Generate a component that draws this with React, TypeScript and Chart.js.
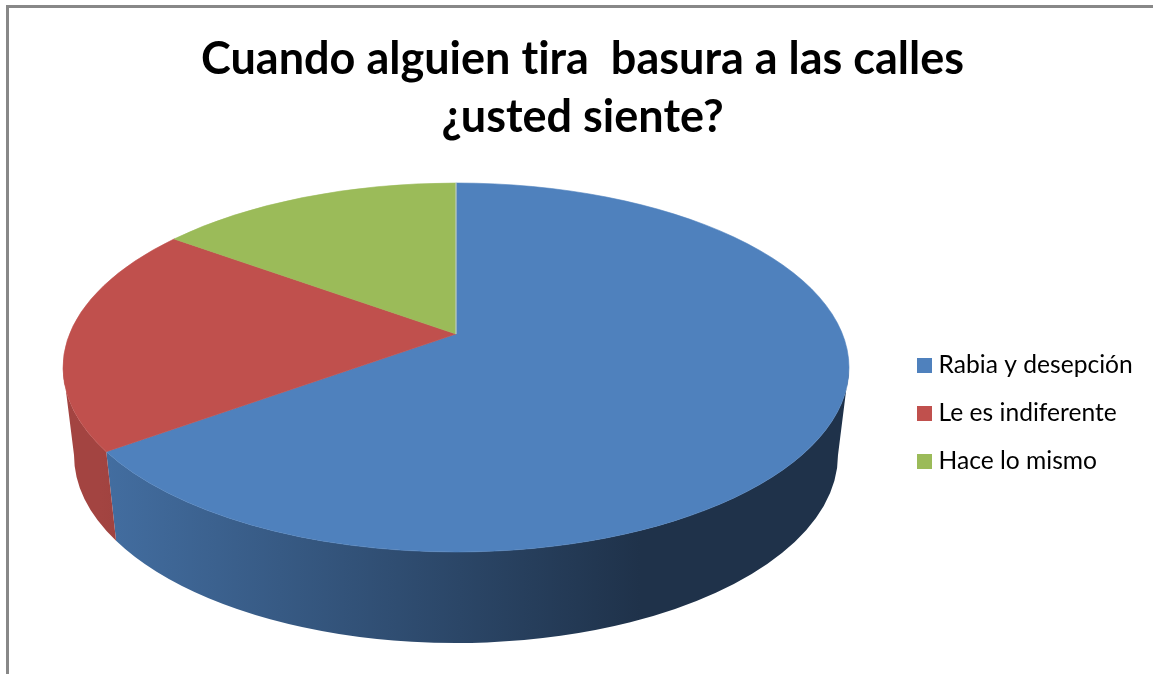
import React, { useEffect, useRef } from "react";
import { Chart, registerables } from "chart.js";

Chart.register(...registerables);

const titleLines = ["Cuando alguien tira  basura a las calles", "¿usted siente?"];
const categories = ["Rabia y desepción", "Le es indiferente", "Hace lo mismo"];
const shares = [65, 20, 15];
const colors = ["#4f81bd", "#c0504d", "#9bbb59"];

// Tilted-disc look of the 3D pie
const top3d = { cx: 456, cy: 367.5, rx: 393, ry: 184.5 };
const bottom3d = { cx: 456, cy: 455, rx: 382, ry: 188 };
const apex = { x: 456, y: 334 };
const persp = { c: -0.1816, a: 117.8, k: 385 };

function paramAngle(angle: number) {
  const x = Math.cos(angle);
  const y = Math.sin(angle);
  const w = 1 + persp.c * y;
  const X = apex.x + (persp.k * x) / w;
  const Y = (persp.a * y + apex.y) / w;
  return Math.atan2((Y - top3d.cy) / top3d.ry, (X - top3d.cx) / top3d.rx);
}

function shade(hex: string, f: number) {
  const n = parseInt(hex.slice(1), 16);
  const r = Math.round(((n >> 16) & 255) * f);
  const g = Math.round(((n >> 8) & 255) * f);
  const b = Math.round((n & 255) * f);
  return `rgb(${r},${g},${b})`;
}

const pie3dPlugin = {
  id: "pie3d",
  afterLayout(chart: any) {
    const legend = chart.legend;
    const width = legend.right - legend.left;
    legend.left = 899.4;
    legend.right = legend.left + width;
    legend.top = 317;
    legend.bottom = 510;
  },
  beforeDraw(chart: any) {
    // a tiny spacing keeps "ti" from turning into a ligature
    chart.ctx.letterSpacing = "0.01px";
  },
  beforeDatasetDraw(chart: any, args: any) {
    const ctx = chart.ctx;
    const meta = chart.getDatasetMeta(args.index);
    const parts = meta.data.map((arc: any, i: number) => {
      let t0 = paramAngle(arc.startAngle);
      let t1 = paramAngle(arc.endAngle);
      if (t1 <= t0) t1 += Math.PI * 2;
      if (t0 > Math.PI) {
        t0 -= Math.PI * 2;
        t1 -= Math.PI * 2;
      }
      return { t0, t1, color: chart.data.datasets[args.index].backgroundColor[i] };
    });

    // side wall
    parts.forEach((p: any) => {
      const a = Math.max(p.t0, 0);
      const b = Math.min(p.t1, Math.PI);
      if (b <= a) return;
      const g = ctx.createLinearGradient(100, 0, 640, 0);
      g.addColorStop(0, shade(p.color, 0.85));
      g.addColorStop(1, shade(p.color, 0.39));
      ctx.save();
      ctx.beginPath();
      ctx.ellipse(top3d.cx, top3d.cy, top3d.rx, top3d.ry, 0, a, b, false);
      ctx.ellipse(bottom3d.cx, bottom3d.cy, bottom3d.rx, bottom3d.ry, 0, b, a, true);
      ctx.closePath();
      ctx.fillStyle = g;
      ctx.fill();
      ctx.restore();
    });

    // top face
    parts.forEach((p: any) => {
      ctx.save();
      ctx.beginPath();
      ctx.moveTo(apex.x, apex.y);
      ctx.ellipse(top3d.cx, top3d.cy, top3d.rx, top3d.ry, 0, p.t0, p.t1, false);
      ctx.closePath();
      ctx.fillStyle = p.color;
      ctx.fill();
      ctx.strokeStyle = p.color;
      ctx.lineWidth = 0.6;
      ctx.stroke();
      ctx.restore();
    });

    // thin pale seam where the first slice starts
    ctx.save();
    ctx.beginPath();
    ctx.moveTo(apex.x, apex.y);
    ctx.lineTo(apex.x, top3d.cy - top3d.ry);
    ctx.strokeStyle = "#c3cfdc";
    ctx.lineWidth = 1;
    ctx.stroke();
    ctx.restore();
    return false;
  },
};

export default function App() {
  const ref = useRef<HTMLCanvasElement>(null);
  useEffect(() => {
    document.body.style.margin = "0";
    document.body.style.background = "#ffffff";
    const chart = new Chart(ref.current as HTMLCanvasElement, {
      type: "pie",
      data: {
        labels: categories,
        datasets: [{ data: shares, backgroundColor: colors, borderWidth: 0 }],
      },
      plugins: [pie3dPlugin],
      options: {
        responsive: false,
        animation: false,
        layout: { padding: { left: 12, top: 0 } },
        plugins: {
          tooltip: { enabled: false },
          title: {
            display: true,
            text: titleLines,
            color: "#000000",
            font: { family: "Lato", size: 45, weight: "bold", lineHeight: 1.29 },
            padding: { top: 30, bottom: 10 },
          },
          legend: {
            position: "right",
            labels: {
              color: "#1a1a1a",
              font: { family: "Lato", size: 24.6, lineHeight: 1 },
              boxWidth: 3.4,
              boxHeight: 3.4,
              padding: 23.4,
              generateLabels: () =>
                categories.map((text, i) => ({
                  text,
                  fillStyle: colors[i],
                  strokeStyle: colors[i],
                  lineWidth: 11.6,
                  index: i,
                })),
            },
          },
        },
      },
    } as any);
    return () => chart.destroy();
  }, []);
  return (
    <div style={{ position: "fixed", left: 0, top: 0, width: 1153, height: 674, background: "#fff", overflow: "hidden", filter: "blur(0.6px)" }}>
      <div style={{ position: "absolute", left: 6, top: 5, right: -10, bottom: -10, borderTop: "3px solid #888", borderLeft: "3px solid #888" }} />
      <canvas ref={ref} width={1153} height={674} style={{ position: "absolute", left: 0, top: 0 }} />
    </div>
  );
}
